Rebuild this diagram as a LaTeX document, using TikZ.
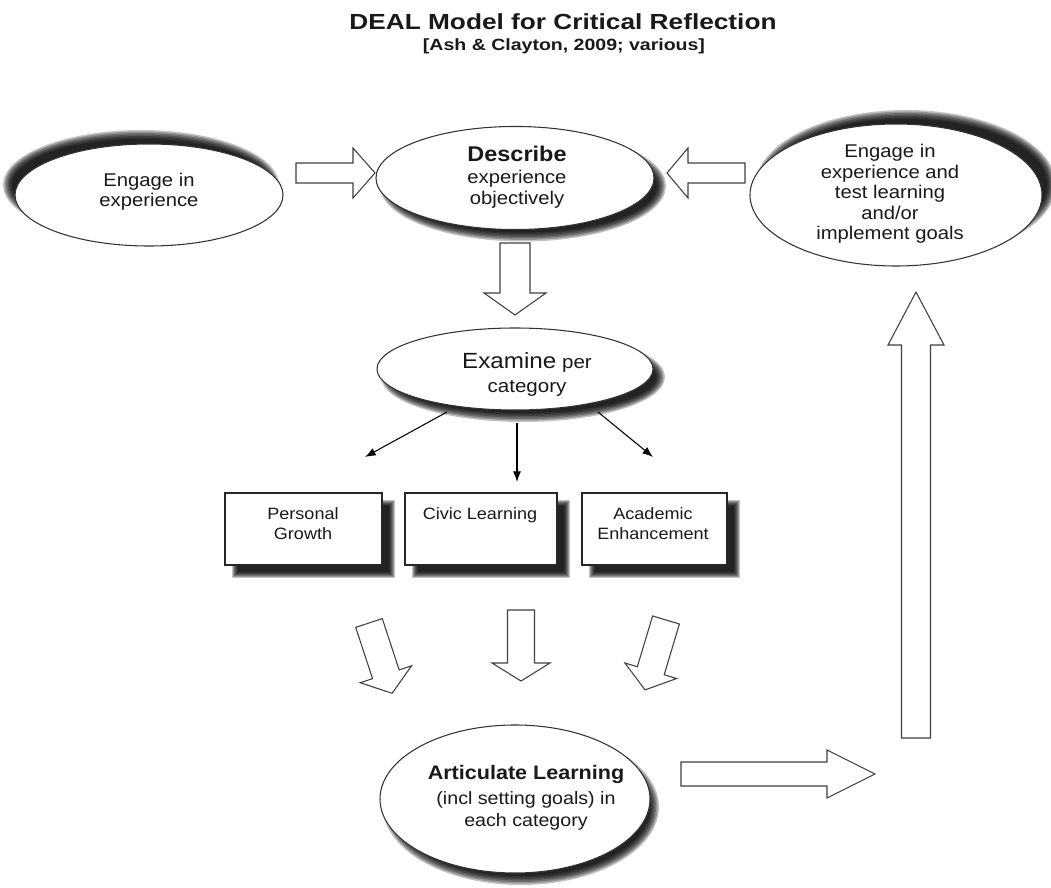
\documentclass[tikz,border=0pt]{standalone}
\usepackage{fontspec}
\setmainfont{Liberation Sans}[FakeStretch=1.1]
\newfontfamily\headfont{Liberation Sans}[FakeStretch=1.2]
\usetikzlibrary{shapes.geometric,arrows.meta,calc}

% soft (blurred) shadow of an ellipse: centre x, centre y, rx, ry (px)
\newcommand\SoftEll[4]{%
  \foreach \e in {4,2.5,1,-0.5,-2,-3.5,-5}{%
    \fill[black,opacity=0.24] (#1,#2) ellipse [x radius={(#3+\e)*0.75pt}, y radius={(#4+\e)*0.75pt}];}}
% soft shadow of a rectangle: x1,y1,x2,y2 (px)
\newcommand\SoftRect[4]{%
  \foreach \e in {3,2,1,0,-1,-2,-3}{%
    \fill[black,opacity=0.24] ({#1-\e},{#2-\e}) rectangle ({#3+\e},{#4+\e});}}
% block arrow: tail coordinate, rotation, length, half shaft, half head, head length
\newcommand\BlkArrow[6]{%
  \begin{scope}[shift={(#1)},rotate=#2]
    \draw[blk] (0,-#4) -- ({#3-#6},-#4) -- ({#3-#6},-#5) -- (#3,0)
      -- ({#3-#6},#5) -- ({#3-#6},#4) -- (0,#4) -- cycle;
  \end{scope}}

\tikzset{
  blk/.style={draw=black!75, fill=white, line width=0.8pt, line join=miter},
  ell/.style={ellipse, draw=black!80, fill=white, line width=0.8pt, inner sep=0pt},
  catbox/.style={rectangle, draw=black!85, fill=white, line width=0.9pt, inner sep=0pt},
  txt/.style={align=center, inner sep=0pt, text=black!90},
  body/.style={txt, font=\fontsize{13.8}{15.2}\selectfont},
  boxtxt/.style={txt, anchor=north, font=\fontsize{12.3}{15}\selectfont},
  thinarr/.style={-{Latex[length=8pt,width=6pt]}, line width=0.8pt, black},
}

\begin{document}
\begin{tikzpicture}[x=0.75pt,y=-0.75pt]
\fill[white] (0,0) rectangle (1051,888);
\useasboundingbox (0,0) rectangle (1051,888);

% ---------- title ----------
\node[txt, font=\headfont\bfseries\fontsize{16.4}{19}\selectfont] (title) at (563,22) {DEAL Model for Critical Reflection};
\node[txt, font=\headfont\bfseries\fontsize{12.2}{14}\selectfont] (subtitle) at (564,46) {[Ash \& Clayton, 2009; various]};

% ---------- shadows ----------
\SoftEll{141}{185}{134}{51}
\SoftEll{523}{186}{139}{51.5}
\SoftEll{906}{185}{146}{71}
\SoftEll{523}{377}{138}{41}
\SoftEll{521}{807}{134}{74}
\SoftRect{235}{503}{392}{575}
\SoftRect{415}{503}{567}{575}
\SoftRect{592}{503}{737}{575}

% ---------- ellipses ----------
\node[ell, minimum width=201pt, minimum height=76.5pt] (engage) at (149,195) {};
\node[ell, minimum width=208.5pt, minimum height=77.3pt] (describe) at (515,178) {};
\node[ell, minimum width=219pt, minimum height=106.5pt] (engage2) at (896,195) {};
\node[ell, minimum width=207pt, minimum height=61.5pt] (examine) at (515,369) {};
\node[ell, minimum width=202.5pt, minimum height=111pt] (articulate) at (515,799) {};

% ---------- boxes ----------
\node[catbox, minimum width=117.75pt, minimum height=54pt] (pg) at (303.5,529) {};
\node[catbox, minimum width=114pt, minimum height=54pt] (cl) at (481,529) {};
\node[catbox, minimum width=108.75pt, minimum height=54pt] (ae) at (654.5,529) {};

% ---------- texts ----------
\node[body] (tengage) at (149,192) {Engage in\\experience};
\node[body] (tdescribe) at (517,177) {{\bfseries\fontsize{16}{18}\selectfont Describe}\\[1.5pt]experience\\objectively};
\node[body, font=\fontsize{13.8}{15.4}\selectfont] (tengage2) at (890,194) {Engage in\\experience and\\test learning\\and/or\\implement goals};
\node[txt, font=\fontsize{14}{18}\selectfont] (texamine) at (527,374) {{\fontsize{16.5}{18}\selectfont Examine} per\\category};
\node[boxtxt] (tpg) at (303,507) {Personal\\Growth};
\node[boxtxt] (tcl) at (480,507) {Civic Learning};
\node[boxtxt] (tae) at (653,507) {Academic\\Enhancement};
\node[txt, font=\fontsize{13.4}{16.5}\selectfont] (tarticulate) at (526,798) {{\bfseries\fontsize{14.7}{17}\selectfont Articulate Learning}\\[2pt](incl setting goals) in\\each category};

% ---------- block arrows ----------
\coordinate (a1) at (296,173);
\coordinate (a2) at (745,173);
\coordinate (a3) at (515,243);
\coordinate (a4) at (369,623);
\coordinate (a5) at (521,610);
\coordinate (a6) at (666,620);
\coordinate (a7) at (681,774);
\coordinate (a8) at (916,738);
\BlkArrow{a1}{0}{79}{10}{25}{22}
\BlkArrow{a2}{180}{78}{10}{25}{21}
\BlkArrow{a3}{-90}{72}{15}{31}{22}
\BlkArrow{a4}{-71.8}{74}{14}{27}{20}
\BlkArrow{a5}{-90}{71}{13.5}{29}{18}
\BlkArrow{a6}{-106.7}{73}{14}{27}{20}
\BlkArrow{a7}{0}{194}{12}{24}{48}
\BlkArrow{a8}{90}{446}{14.5}{28}{53}

% ---------- thin arrows ----------
\coordinate (s1) at (447,412);
\coordinate (s2) at (517,423);
\coordinate (s3) at (598,412);
\coordinate (e1) at (365,457);
\coordinate (e2) at (517,482);
\coordinate (e3) at (653,457);
\draw[thinarr] (s1) -- (e1);
\draw[thinarr] (s2) -- (e2);
\draw[thinarr] (s3) -- (e3);
\end{tikzpicture}
\end{document}
